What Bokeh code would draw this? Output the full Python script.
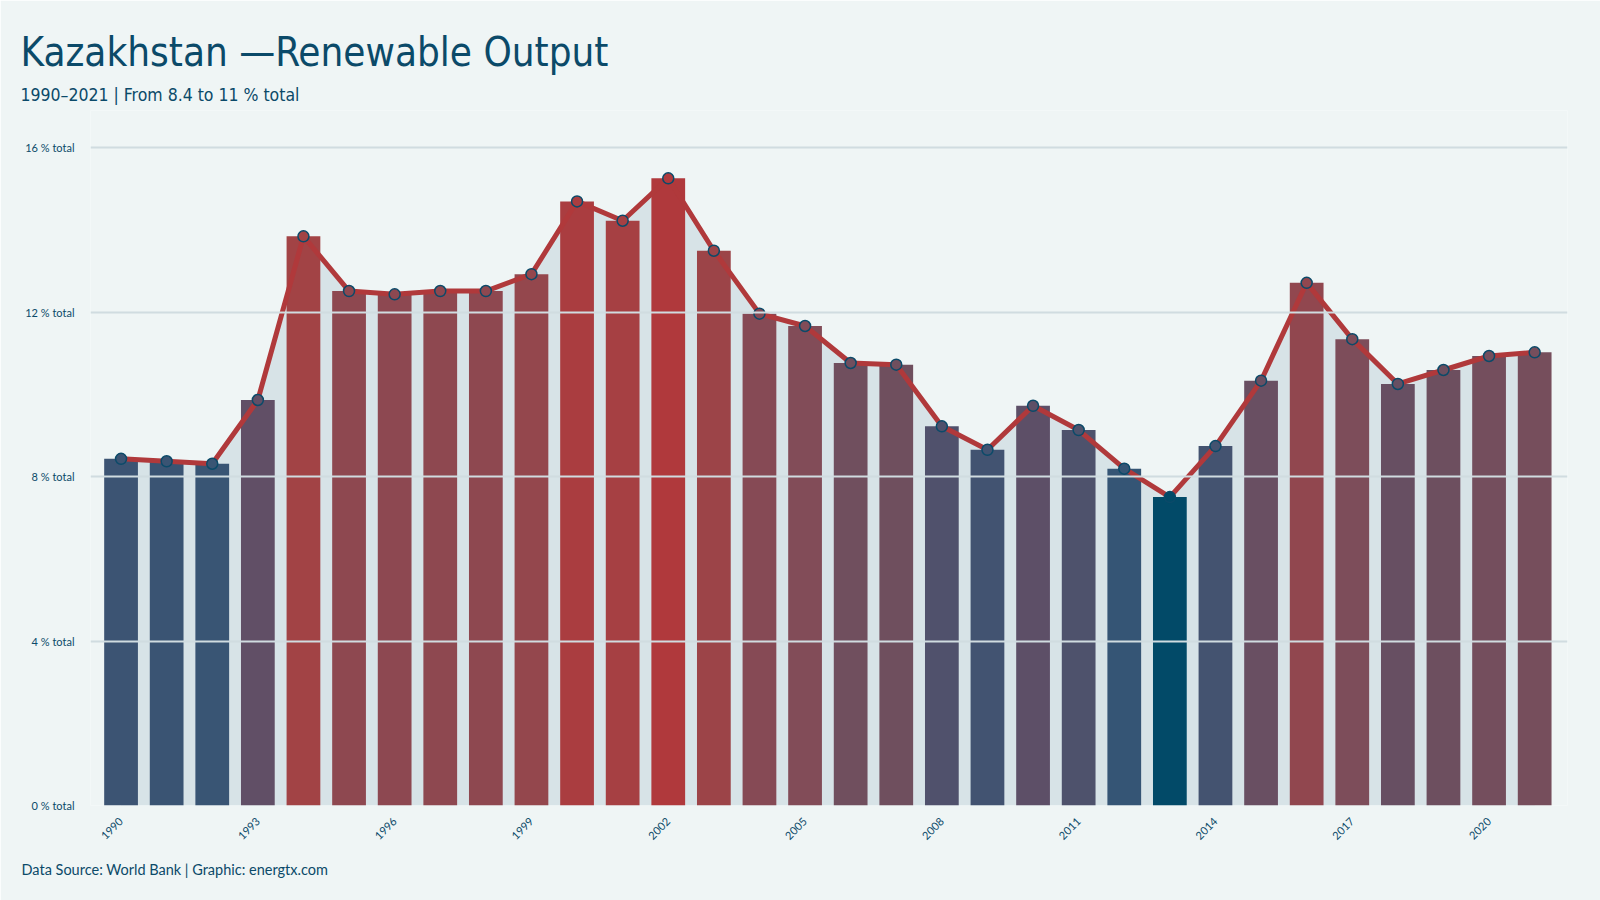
import numpy as np
from bokeh.plotting import figure
from bokeh.models import ColumnDataSource, FixedTicker, Range1d, Title
from bokeh.embed import file_html
from bokeh.resources import INLINE

# Kazakhstan renewable output, % of total
years = [1990, 1991, 1992, 1993, 1994, 1995, 1996, 1997, 1998, 1999, 2000,
         2001, 2002, 2003, 2004, 2005, 2006, 2007, 2008, 2009, 2010, 2011,
         2012, 2013, 2014, 2015, 2016, 2017, 2018, 2019, 2020, 2021]
renewable_share = [8.43, 8.37, 8.31, 9.86, 13.84, 12.51, 12.43, 12.51, 12.51, 12.92, 14.69,
                   14.22, 15.25, 13.49, 11.96, 11.66, 10.76, 10.72, 9.22, 8.65, 9.72, 9.13,
                   8.19, 7.50, 8.74, 10.33, 12.71, 11.34, 10.25, 10.59, 10.93, 11.02]

x_tick_years = [1990, 1993, 1996, 1999, 2002, 2005, 2008, 2011, 2014, 2017, 2020]
y_ticks = [0, 4, 8, 12, 16]
y_tick_labels = ["0 % total", "4 % total", "8 % total", "12 % total", "16 % total"]

# colour ramp: low values dark blue, high values red
ramp_t = [0.0, 0.09, 0.30, 0.42, 0.50, 0.65, 0.82, 1.0]
ramp_colors = ["#024a68", "#365575", "#604f66", "#704f5e", "#7e4d5a", "#8e4850", "#a24345", "#b0393c"]

BG = "#eff5f5"
INK = "#0b4a69"
LINE_RED = "#b0393b"
HEAD_FONT = "DejaVu Sans Condensed"


def hex_to_rgb(h):
    h = h.lstrip("#")
    return np.array([int(h[i:i + 2], 16) for i in (0, 2, 4)], dtype=float)


ramp_rgb = np.array([hex_to_rgb(c) for c in ramp_colors])


def ramp(v, vmin, vmax):
    t = (v - vmin) / (vmax - vmin)
    rgb = [np.interp(t, ramp_t, ramp_rgb[:, k]) for k in range(3)]
    return "#%02x%02x%02x" % tuple(int(round(c)) for c in rgb)


vmin, vmax = min(renewable_share), max(renewable_share)
bar_colors = [ramp(v, vmin, vmax) for v in renewable_share]

src = ColumnDataSource(dict(year=years, share=renewable_share, color=bar_colors,
                            zero=[0] * len(years)))

p = figure(width=1600, height=900, output_backend="svg", toolbar_location=None, title=None,
           x_range=Range1d(1989.33, 2021.72), y_range=Range1d(0, 16.9),
           min_border_left=90, min_border_right=33, min_border_top=110, min_border_bottom=95)
p.background_fill_color = BG
p.border_fill_color = BG
p.outline_line_color = None

# light band under the trend line
area = p.varea(x="year", y1="zero", y2="share", source=src, fill_color="#d7e3e7")
area.level = "underlay"

p.vbar(x="year", top="share", width=0.74, source=src, fill_color="color", line_color=None)
p.line(x="year", y="share", source=src, line_color=LINE_RED, line_width=5, line_join="round")
p.scatter(x="year", y="share", source=src, size=11, fill_color="color",
          line_color=INK, line_width=1.5)

p.xgrid.visible = False
p.ygrid.ticker = FixedTicker(ticks=y_ticks)
p.ygrid.grid_line_color = "#d0dce0"
p.ygrid.grid_line_width = 2
p.ygrid.level = "glyph"

for ax in (p.xaxis[0], p.yaxis[0]):
    ax.axis_line_color = None
    ax.major_tick_line_color = None
    ax.minor_tick_line_color = None
    ax.major_label_text_color = INK
    ax.major_label_text_font = "Lato"
    ax.major_label_text_font_size = "11px"

p.yaxis.ticker = FixedTicker(ticks=y_ticks)
p.yaxis.major_label_overrides = {t: lab for t, lab in zip(y_ticks, y_tick_labels)}
p.yaxis.major_label_standoff = 10

p.xaxis.ticker = FixedTicker(ticks=x_tick_years)
p.xaxis.major_label_orientation = np.pi / 4
p.xaxis.major_label_standoff = 8

# title block: subtitle added first so it sits nearest the plot
first = round(renewable_share[0], 1)
last = round(renewable_share[-1], 1)
title = "Kazakhstan \u2014Renewable Output"
subtitle = f"{years[0]}\u2013{years[-1]} | From {first:g} to {last:g} % total"

p.add_layout(Title(text=subtitle, align="left", offset=-70, standoff=12,
                   text_font=HEAD_FONT, text_font_size="17.5px", text_font_style="normal",
                   text_color=INK), "above")
p.add_layout(Title(text=title, align="left", offset=-70, standoff=4,
                   text_font=HEAD_FONT, text_font_size="40px", text_font_style="normal",
                   text_color=INK), "above")

# source credit below the axis
p.add_layout(Title(text="Data Source: World Bank | Graphic: energtx.com", align="left",
                   offset=-69, standoff=24, text_font="Lato", text_font_size="14.5px",
                   text_font_style="normal", text_color=INK), "below")

open("out.html", "w").write(file_html(p, INLINE))
